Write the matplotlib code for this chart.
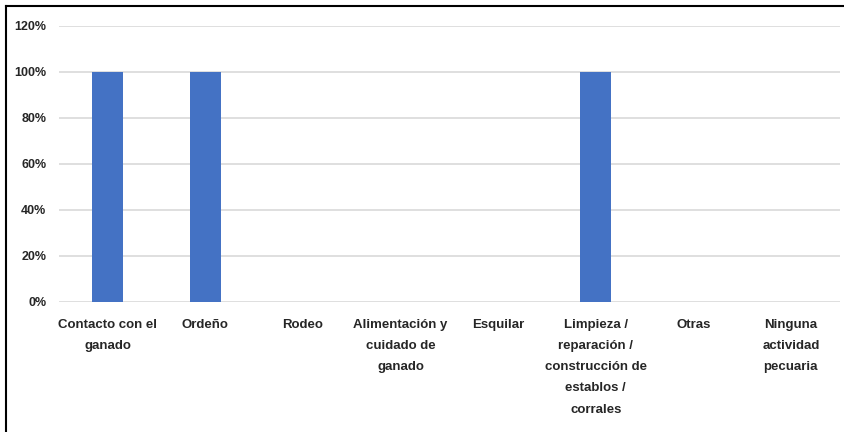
import matplotlib.pyplot as plt
from matplotlib.lines import Line2D
from matplotlib.ticker import PercentFormatter

categorias = ['Contacto con el\nganado', 'Ordeño', 'Rodeo',
              'Alimentación y\ncuidado de\nganado', 'Esquilar',
              'Limpieza /\nreparación /\nconstrucción de\nestablos /\ncorrales',
              'Otras', 'Ninguna\nactividad\npecuaria']
valores = [1.0, 1.0, 0, 0, 0, 1.0, 0, 0]

plt.rcParams['font.family'] = ['Liberation Sans', 'DejaVu Sans']

fig = plt.figure(figsize=(8.44, 4.32), dpi=100)
ax = fig.add_axes([0.0699, 0.301, 0.925, 0.639])

x = range(len(categorias))
ax.bar(x, valores, width=0.32, color='#4472C4', zorder=3)

ax.set_ylim(0, 1.2)
ax.set_xlim(-0.5, len(categorias) - 0.5)
ax.set_yticks([0, 0.2, 0.4, 0.6, 0.8, 1.0, 1.2])
ax.yaxis.set_major_formatter(PercentFormatter(1.0, decimals=0))
ax.grid(axis='y', color='#d9d9d9', linewidth=1.2, zorder=0)
ax.set_xticks(list(x))
ax.set_xticklabels(categorias, fontsize=9.5, fontweight='bold', color='#262626',
                   linespacing=2.03, va='top')
for lbl in ax.get_yticklabels():
    lbl.set_fontsize(9)
    lbl.set_fontweight('bold')
    lbl.set_color('#262626')
ax.tick_params(axis='both', length=0)
ax.tick_params(axis='y', pad=9)
ax.tick_params(axis='x', pad=12)
for s in ax.spines.values():
    s.set_visible(False)

# marco del gráfico
fig.add_artist(Line2D([6 / 844, 1.0], [1 - 6 / 432, 1 - 6 / 432],
                      transform=fig.transFigure, color='black', linewidth=1.5))
fig.add_artist(Line2D([6 / 844, 6 / 844], [0, 1 - 6 / 432],
                      transform=fig.transFigure, color='black', linewidth=1.5))

fig.savefig('out.png', dpi=100)
